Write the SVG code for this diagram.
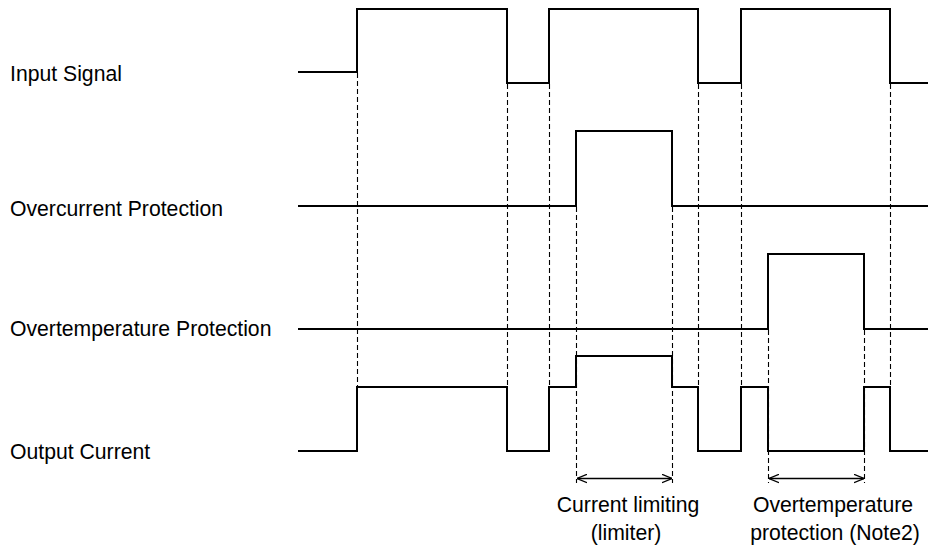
<svg xmlns="http://www.w3.org/2000/svg" width="928" height="549" viewBox="0 0 928 549">
<style>
.sig{fill:none;stroke:#000;stroke-width:2;stroke-linejoin:miter}
.dash{fill:none;stroke:#000;stroke-width:1.1;stroke-dasharray:5,3}
.dim{fill:none;stroke:#000;stroke-width:1.3}
.lbl{font-family:"Liberation Sans",Arial,sans-serif;font-size:21.2px;fill:#000}
</style>
<defs>
<marker id="ah" viewBox="0 0 10 10" refX="10" refY="5" markerWidth="10" markerHeight="10" markerUnits="userSpaceOnUse" orient="auto-start-reverse">
<path d="M0,0.8 L10,5 L0,9.2" fill="none" stroke="#000" stroke-width="1.3"/>
</marker>
</defs>
<rect width="928" height="549" fill="#fff"/>
<g id="labels">
<text class="lbl" x="10" y="81">Input Signal</text>
<text class="lbl" x="10" y="215.5">Overcurrent Protection</text>
<text class="lbl" x="10" y="336">Overtemperature Protection</text>
<text class="lbl" x="10" y="459">Output Current</text>
</g>
<g id="connectors">
<line class="dash" x1="357.5" y1="73" x2="357.5" y2="387"/>
<line class="dash" x1="507.5" y1="84" x2="507.5" y2="387"/>
<line class="dash" x1="549.5" y1="84" x2="549.5" y2="387"/>
<line class="dash" x1="576.5" y1="207" x2="576.5" y2="483"/>
<line class="dash" x1="672.5" y1="207" x2="672.5" y2="483"/>
<line class="dash" x1="698.5" y1="84" x2="698.5" y2="387"/>
<line class="dash" x1="741.5" y1="84" x2="741.5" y2="387"/>
<line class="dash" x1="890.5" y1="84" x2="890.5" y2="387"/>
<line class="dash" x1="768.5" y1="330" x2="768.5" y2="483"/>
<line class="dash" x1="864.5" y1="330" x2="864.5" y2="483"/>
<line class="dim" x1="577" y1="478.5" x2="672" y2="478.5" marker-start="url(#ah)" marker-end="url(#ah)"/>
<line class="dim" x1="769" y1="478.5" x2="864" y2="478.5" marker-start="url(#ah)" marker-end="url(#ah)"/>
</g>
<g id="input-signal">
<path class="sig" d="M298,72 H357 V9 H507 V83 H549 V9 H698 V83 H741 V9 H890 V83 H928"/>
</g>
<g id="overcurrent-protection">
<path class="sig" d="M298,206 H576 V131 H672 V206 H928"/>
</g>
<g id="overtemperature-protection">
<path class="sig" d="M298,329 H768 V254 H864 V329 H928"/>
</g>
<g id="output-current">
<path class="sig" d="M298,451 H357 V387 H507 V451 H549 V387 H576 V356 H672 V387 H698 V451 H741 V387 H768 V451 H864 V387 H890 V451 H928"/>
</g>
<g id="annotations">
<text class="lbl" x="628" y="512" text-anchor="middle">Current limiting</text>
<text class="lbl" x="626" y="540" text-anchor="middle">(limiter)</text>
<text class="lbl" x="833" y="512" text-anchor="middle">Overtemperature</text>
<text class="lbl" x="835" y="540" text-anchor="middle">protection (Note2)</text>
</g>
</svg>
